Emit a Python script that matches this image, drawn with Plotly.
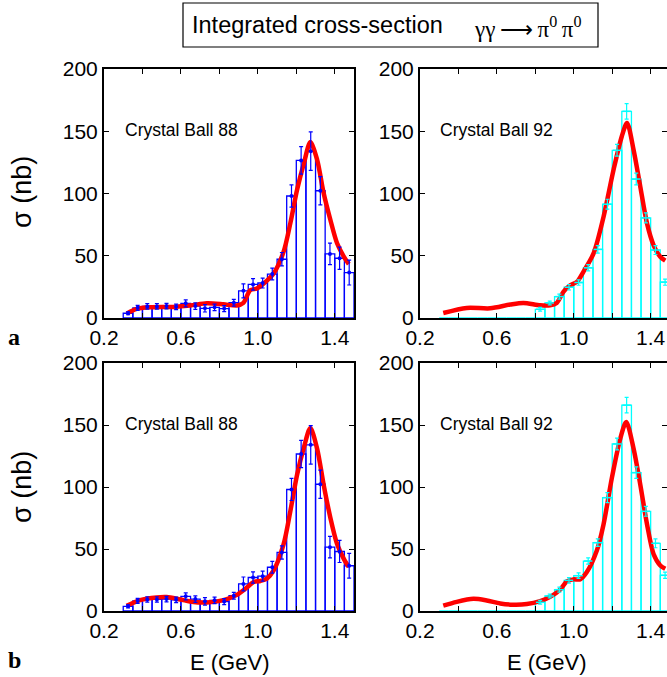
import plotly.graph_objects as go

# ---- measured cross-sections, 0.05 GeV bins ----
bin_centers_88 = [0.325, 0.375, 0.425, 0.475, 0.525, 0.575, 0.625, 0.675, 0.725, 0.775,
                  0.825, 0.875, 0.925, 0.975, 1.025, 1.075, 1.125, 1.175, 1.225, 1.275,
                  1.325, 1.375, 1.425, 1.475]
sigma_88 = [3.8, 8.2, 9.3, 9.3, 9.6, 9.0, 11.8, 9.6, 7.8, 8.6,
            7.6, 12.3, 21.8, 27.0, 28.1, 35.3, 47.2, 98.0, 126.6, 134.0,
            102.2, 51.5, 48.0, 36.5]
err_88 = [1.2, 2.0, 2.2, 2.2, 2.2, 2.2, 2.8, 2.6, 3.0, 2.6,
          2.4, 2.7, 5.6, 4.6, 4.0, 4.7, 5.4, 8.9, 11.0, 15.5,
          11.4, 8.7, 8.9, 10.0]

bin_centers_92 = [0.325, 0.375, 0.425, 0.475, 0.525, 0.575, 0.625, 0.675, 0.725, 0.775,
                  0.825, 0.875, 0.925, 0.975, 1.025, 1.075, 1.125, 1.175, 1.225, 1.275,
                  1.325, 1.375, 1.425, 1.475]
sigma_92 = [0, 0, 0, 0, 0, 0, 0, 0, 0, 0,
            7.0, 12.1, 17.2, 24.7, 28.5, 40.3, 55.1, 91.4, 134.7, 166.0,
            111.6, 80.4, 54.6, 28.8]
err_92 = [0, 0, 0, 0, 0, 0, 0, 0, 0, 0,
          1.5, 1.5, 2.0, 2.2, 2.2, 2.5, 3.0, 4.0, 4.7, 6.2,
          4.7, 4.0, 3.6, 2.5]

# ---- fitted curves ----
fit_a_88_E = [0.318, 0.370, 0.440, 0.561, 0.648, 0.735, 0.821, 0.891, 0.925, 0.960,
              0.995, 1.030, 1.082, 1.134, 1.169, 1.204, 1.240, 1.273, 1.308, 1.342,
              1.377, 1.412, 1.447, 1.473]
fit_a_88_s = [3.5, 7.3, 8.6, 8.9, 10.0, 11.8, 11.0, 10.0, 12.1, 22.3,
              23.7, 27.7, 35.8, 53.3, 76.2, 103.0, 124.6, 141.3, 127.3, 100.4,
              78.9, 60.0, 49.3, 43.3]

fit_a_92_E = [0.321, 0.443, 0.565, 0.669, 0.738, 0.825, 0.877, 0.911, 0.946, 0.981,
              1.016, 1.050, 1.103, 1.155, 1.207, 1.250, 1.277, 1.311, 1.346, 1.381,
              1.415, 1.450, 1.476]
fit_a_92_s = [4.0, 8.1, 7.8, 10.8, 12.1, 10.2, 10.2, 12.1, 21.0, 26.3,
              29.0, 37.1, 51.9, 81.4, 119.1, 146.0, 156.7, 135.2, 105.6, 76.0,
              58.6, 49.2, 46.0]

fit_b_88_E = [0.318, 0.388, 0.474, 0.526, 0.596, 0.665, 0.735, 0.821, 0.891, 0.943,
              0.978, 1.013, 1.047, 1.082, 1.134, 1.169, 1.204, 1.238, 1.273, 1.308,
              1.342, 1.377, 1.412, 1.447, 1.473]
fit_b_88_s = [4.3, 8.8, 10.9, 11.2, 9.3, 7.2, 6.9, 8.8, 13.0, 18.9,
              23.4, 24.2, 26.1, 32.7, 54.0, 80.6, 109.9, 131.1, 147.5, 131.0,
              101.9, 75.3, 54.0, 42.0, 35.4]

fit_b_92_E = [0.321, 0.391, 0.478, 0.547, 0.617, 0.686, 0.756, 0.825, 0.877, 0.929,
              0.964, 0.998, 1.033, 1.068, 1.120, 1.155, 1.198, 1.242, 1.273, 1.311,
              1.346, 1.381, 1.415, 1.450, 1.476]
fit_b_92_s = [4.3, 7.4, 9.8, 8.5, 6.1, 5.1, 5.6, 8.0, 11.4, 17.3,
              23.9, 25.5, 25.5, 31.4, 48.7, 70.0, 107.2, 139.1, 152.4, 131.1,
              101.9, 70.0, 46.0, 36.7, 34.0]

x_tick_vals = [0.2, 0.4, 0.6, 0.8, 1.0, 1.2, 1.4]
x_tick_text = ["0.2", "", "0.6", "", "1.0", "", "1.4"]
y_tick_vals = [0, 50, 100, 150, 200]

BIN_WIDTH = 0.05
BLUE = "#0000ff"
CYAN = "#00ffff"
RED = "#ff0000"
SANS = "Liberation Sans, Arial, sans-serif"
SERIF = "Liberation Serif, Times New Roman, serif"

W, H = 667, 677


def px_x(v):
    return v / W


def px_y(v):
    return 1 - v / H


panels = [
    dict(ax="", xdom=[px_x(104), px_x(354)], ydom=[px_y(318), px_y(69)], xr=[0.2, 1.5],
         E=bin_centers_88, s=sigma_88, e=err_88, fx=fit_a_88_E, fy=fit_a_88_s,
         color=BLUE, label="Crystal Ball 88", marker="circle"),
    dict(ax="2", xdom=[px_x(420), 1.0], ydom=[px_y(318), px_y(69)], xr=[0.2, 1.485],
         E=bin_centers_92, s=sigma_92, e=err_92, fx=fit_a_92_E, fy=fit_a_92_s,
         color=CYAN, label="Crystal Ball 92", marker="line-ew"),
    dict(ax="3", xdom=[px_x(104), px_x(354)], ydom=[px_y(611), px_y(363)], xr=[0.2, 1.5],
         E=bin_centers_88, s=sigma_88, e=err_88, fx=fit_b_88_E, fy=fit_b_88_s,
         color=BLUE, label="Crystal Ball 88", marker="circle"),
    dict(ax="4", xdom=[px_x(420), 1.0], ydom=[px_y(611), px_y(363)], xr=[0.2, 1.485],
         E=bin_centers_92, s=sigma_92, e=err_92, fx=fit_b_92_E, fy=fit_b_92_s,
         color=CYAN, label="Crystal Ball 92", marker="line-ew"),
]

fig = go.Figure()
layout_axes = {}
annotations = []

for p in panels:
    xa, ya = "x" + p["ax"], "y" + p["ax"]
    # histogram outline
    fig.add_trace(go.Bar(
        x=p["E"], y=p["s"], width=BIN_WIDTH, xaxis=xa, yaxis=ya,
        marker=dict(color="rgba(0,0,0,0)", line=dict(color=p["color"], width=1.3)),
        showlegend=False, hoverinfo="skip"))
    # fit curve
    fig.add_trace(go.Scatter(
        x=p["fx"], y=p["fy"], mode="lines", xaxis=xa, yaxis=ya,
        line=dict(color=RED, width=4.5, shape="spline", smoothing=0.8),
        showlegend=False, hoverinfo="skip"))
    # data points with errors
    pts = [(E, s, e) for E, s, e in zip(p["E"], p["s"], p["e"]) if s > 0]
    mk = dict(color=p["color"], size=4) if p["marker"] == "circle" else \
        dict(symbol="line-ew", size=6, line=dict(color=p["color"], width=1.5))
    fig.add_trace(go.Scatter(
        x=[q[0] for q in pts], y=[q[1] for q in pts], mode="markers",
        xaxis=xa, yaxis=ya, marker=mk,
        error_y=dict(type="data", array=[q[2] for q in pts], color=p["color"],
                     thickness=1.2, width=2),
        showlegend=False, hoverinfo="skip"))

    key = p["ax"]
    layout_axes["xaxis" + key] = dict(
        domain=p["xdom"], range=p["xr"], anchor=ya, tickvals=x_tick_vals,
        ticktext=x_tick_text, ticks="inside", ticklen=5, tickwidth=1.2,
        tickcolor="black", showline=True, linecolor="black", linewidth=2,
        mirror="ticks", showgrid=False, zeroline=False, automargin=False,
        tickfont=dict(family=SANS, size=21, color="black"))
    layout_axes["yaxis" + key] = dict(
        domain=p["ydom"], range=[0, 200], anchor=xa, tickvals=y_tick_vals,
        ticks="inside", ticklen=5, tickwidth=1.2, tickcolor="black",
        showline=True, linecolor="black", linewidth=2, mirror="ticks",
        showgrid=False, zeroline=False, automargin=False,
        tickfont=dict(family=SANS, size=21, color="black"))
    annotations.append(dict(
        x=0.295 if p["ax"] in ("2", "4") else 0.300, y=151, xref=xa, yref=ya,
        text=p["label"], showarrow=False, xanchor="left", yanchor="middle",
        font=dict(family=SANS, size=17.5, color="black")))

# axis titles and panel letters
for yc in (192, 487):
    annotations.append(dict(x=px_x(22), y=px_y(yc), xref="paper", yref="paper",
                            text="σ (nb)", textangle=-90, showarrow=False,
                            xanchor="center", yanchor="middle",
                            font=dict(family=SANS, size=27, color="black")))
for xc in (229, 546):
    annotations.append(dict(x=px_x(xc), y=px_y(662), xref="paper", yref="paper",
                            text="E (GeV)", showarrow=False,
                            xanchor="center", yanchor="middle",
                            font=dict(family=SANS, size=22, color="black")))
for letter, yc in (("a", 337), ("b", 660)):
    annotations.append(dict(x=px_x(14), y=px_y(yc), xref="paper", yref="paper",
                            text="<b>" + letter + "</b>", showarrow=False,
                            xanchor="center", yanchor="middle",
                            font=dict(family=SERIF, size=24, color="black")))

# boxed heading
annotations.append(dict(x=px_x(190), y=px_y(25), xref="paper", yref="paper",
                        text="Integrated cross-section", showarrow=False,
                        xanchor="left", yanchor="middle",
                        font=dict(family=SANS, size=23.5, color="black")))
annotations.append(dict(x=px_x(472), y=px_y(27), xref="paper", yref="paper",
                        text="γγ\u2009\u27f6\u2009π<sup>0</sup>\u2009π<sup>0</sup>",
                        showarrow=False, xanchor="left", yanchor="middle",
                        font=dict(family=SERIF, size=23, color="black")))

fig.update_layout(
    template="none",
    width=W, height=H, margin=dict(l=0, r=0, t=0, b=0, pad=0, autoexpand=False),
    paper_bgcolor="white", plot_bgcolor="white", barmode="overlay",
    annotations=annotations,
    shapes=[dict(type="rect", xref="paper", yref="paper",
                 x0=px_x(183), x1=px_x(598), y0=px_y(47), y1=px_y(3),
                 line=dict(color="black", width=1.2), fillcolor="rgba(0,0,0,0)")],
    **layout_axes)

fig.write_html("out.html")
